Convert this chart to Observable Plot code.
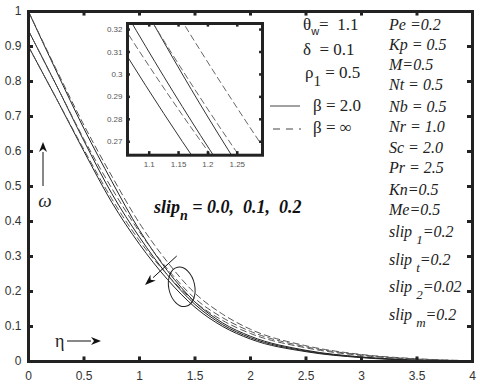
<!DOCTYPE html>
<html><head><meta charset="utf-8">
<script src="https://cdn.jsdelivr.net/npm/d3@7"></script>
<script src="https://cdn.jsdelivr.net/npm/@observablehq/plot@0.6"></script>
<style>
body{margin:0;background:#fff;}
#wrap{position:relative;width:480px;height:387px;overflow:hidden;}
#wrap > svg.mainplot{position:absolute;left:0;top:0;}
#wrap > svg.insetplot{position:absolute;left:100.7px;top:19.3px;}
</style></head><body><div id="wrap"></div>
<script>
// eta samples
const eta = [0, 0.25, 0.5, 0.75, 1.0, 1.25, 1.5, 1.75, 2.0, 2.5, 3.0, 3.5, 4.0];
// beta = 2.0 (solid)
const solidSlip00 = [1.0, 0.83, 0.665, 0.515, 0.375, 0.26, 0.17, 0.11, 0.072, 0.032, 0.013, 0.004, 0.0];
const solidSlip01 = [0.945, 0.79, 0.63, 0.48, 0.355, 0.248, 0.163, 0.105, 0.068, 0.03, 0.012, 0.004, 0.0];
const solidSlip02 = [0.9, 0.752, 0.6, 0.455, 0.335, 0.235, 0.155, 0.1, 0.064, 0.028, 0.011, 0.003, 0.0];
// beta = infinity (dashed)
const dashSlip00 = [1.0, 0.835, 0.675, 0.53, 0.395, 0.285, 0.195, 0.135, 0.092, 0.045, 0.02, 0.008, 0.002];
const dashSlip01 = [0.945, 0.79, 0.635, 0.495, 0.37, 0.265, 0.18, 0.125, 0.086, 0.042, 0.019, 0.007, 0.002];
const dashSlip02 = [0.9, 0.752, 0.605, 0.465, 0.345, 0.248, 0.17, 0.117, 0.08, 0.039, 0.017, 0.006, 0.001];

const xTicks = [0, 0.5, 1, 1.5, 2, 2.5, 3, 3.5, 4];
const yTicks = [0, 0.1, 0.2, 0.3, 0.4, 0.5, 0.6, 0.7, 0.8, 0.9, 1];
const insetXTicks = [1.1, 1.15, 1.2, 1.25];
const insetYTicks = [0.27, 0.28, 0.29, 0.3, 0.31, 0.32];

function toRows(vals, name) { return eta.map((e, i) => ({eta: e, omega: vals[i], series: name})); }
const solidRows = [...toRows(solidSlip00, "s0"), ...toRows(solidSlip01, "s1"), ...toRows(solidSlip02, "s2")];
const dashRows = [...toRows(dashSlip00, "d0"), ...toRows(dashSlip01, "d1"), ...toRows(dashSlip02, "d2")];

const fmt = d => String(d);
const INK = "#222";
const main = Plot.plot({
  width: 480, height: 387,
  marginLeft: 28, marginRight: 8, marginTop: 11, marginBottom: 26,
  x: {domain: [0, 4]},
  y: {domain: [0, 1]},
  style: {fontFamily: "'Liberation Sans', Arial, sans-serif", fontSize: "12px", color: "#333", background: "#fff"},
  marks: [
    Plot.line(solidRows, {x: "eta", y: "omega", z: "series", stroke: "#222", strokeWidth: 1, curve: "monotone-x"}),
    Plot.line(dashRows, {x: "eta", y: "omega", z: "series", stroke: "#555", strokeWidth: 1, strokeDasharray: "6,4", curve: "monotone-x"}),
    Plot.ruleX(xTicks, {x: d => d, y1: 0, y2: 0.013, stroke: INK, strokeWidth: 3}),
    Plot.ruleX(xTicks, {x: d => d, y1: 1, y2: 0.987, stroke: INK, strokeWidth: 3}),
    Plot.ruleY(yTicks, {y: d => d, x1: 0, x2: 0.045, stroke: INK, strokeWidth: 3}),
    Plot.ruleY(yTicks, {y: d => d, x1: 4, x2: 3.955, stroke: INK, strokeWidth: 3}),
    Plot.axisX({ticks: xTicks, tickSize: 0, tickPadding: 10, label: null, tickFormat: fmt}),
    Plot.axisY({ticks: yTicks, tickSize: 0, tickPadding: 7, label: null, tickFormat: fmt}),
    Plot.frame({stroke: INK, strokeWidth: 3})
  ]
});
main.classList.add("mainplot");
document.getElementById("wrap").appendChild(main);

const sx = main.scale("x"), sy = main.scale("y");
const svg = d3.select(main);
const ann = svg.append("g").attr("text-anchor", "start");

// ellipse around curves
const ecx = sx.apply(1.385), ecy = sy.apply(0.212);
ann.append("ellipse").attr("cx", ecx).attr("cy", ecy).attr("rx", 13).attr("ry", 20)
  .attr("transform", `rotate(-12,${ecx},${ecy})`)
  .attr("fill", "none").attr("stroke", "#222").attr("stroke-width", 1);

function arrow(x1, y1, x2, y2, head, width) {
  const ang = Math.atan2(y2 - y1, x2 - x1);
  const bx = x2 - head * Math.cos(ang), by = y2 - head * Math.sin(ang);
  ann.append("line").attr("x1", x1).attr("y1", y1).attr("x2", bx).attr("y2", by)
    .attr("stroke", "#111").attr("stroke-width", 1);
  const px = -Math.sin(ang) * width / 2, py = Math.cos(ang) * width / 2;
  const nx = x2 - head * 0.7 * Math.cos(ang), ny = y2 - head * 0.7 * Math.sin(ang);
  ann.append("path").attr("d", `M${x2},${y2}L${bx + px},${by + py}L${nx},${ny}L${bx - px},${by - py}Z`).attr("fill", "#111");
}
// slip arrow
arrow(sx.apply(1.34), sy.apply(0.3), sx.apply(1.054), sy.apply(0.217), 11, 8);
// omega axis arrow
arrow(43, 186, 43, 142, 10, 8);
// eta axis arrow
arrow(67, 341, 101, 341, 10, 8);

const serif = "'Liberation Serif', 'Times New Roman', serif";
ann.append("text").attr("x", 45).attr("y", 207).attr("text-anchor", "middle")
  .attr("font-family", serif).attr("font-style", "italic").attr("font-size", 19).attr("fill", "#222").text("ω");
ann.append("text").attr("x", 55).attr("y", 347)
  .attr("font-family", serif).attr("font-size", 18).attr("fill", "#222").text("η");

// slip_n annotation
const st = ann.append("text").attr("x", 154).attr("y", 213).attr("xml:space", "preserve")
  .attr("font-family", serif).attr("font-style", "italic").attr("font-weight", "bold").attr("font-size", 18).attr("fill", "#111");
st.append("tspan").text("slip");
st.append("tspan").attr("dy", 7).attr("font-size", 14).text("n");
st.append("tspan").attr("dy", -7).text(" = 0.0,  0.1,  0.2");

function legText(x, y, parts, opts = {}) {
  const t = ann.append("text").attr("x", x).attr("y", y).attr("xml:space", "preserve")
    .attr("font-family", serif).attr("font-size", opts.size || 17).attr("fill", "#222");
  if (opts.italic) t.attr("font-style", "italic");
  let cur = 0;
  for (const p of parts) {
    const sp = t.append("tspan").text(p.t);
    const d = (p.sub || 0) - cur;
    if (d) sp.attr("dy", d);
    cur = p.sub || 0;
    if (p.size) sp.attr("font-size", p.size);
    if (p.family) sp.attr("font-family", p.family).attr("font-style", "normal");
  }
  return t;
}
// left legend column (upright)
legText(303, 30, [{t: "θ"}, {t: "w", sub: 5, size: 11, family: "'Liberation Sans', Arial, sans-serif"}, {t: "=  1.1", sub: 0}]);
legText(303, 55, [{t: "δ  = 0.1"}]);
legText(305, 78, [{t: "ρ"}, {t: "1", sub: 8, size: 15}, {t: " = 0.5", sub: 0}]);
ann.append("line").attr("x1", 270).attr("x2", 300).attr("y1", 106).attr("y2", 106).attr("stroke", "#444").attr("stroke-width", 1);
legText(313, 111, [{t: "β = 2.0"}]);
ann.append("line").attr("x1", 273).attr("x2", 301).attr("y1", 129).attr("y2", 129).attr("stroke", "#444").attr("stroke-width", 1).attr("stroke-dasharray", "7,6");
legText(313, 133, [{t: "β = ∞"}]);

// right legend column (italic)
const rightCol = [
  [30, [{t: "Pe =0.2"}]],
  [50, [{t: "Kp = 0.5"}]],
  [70, [{t: "M=0.5"}]],
  [90, [{t: "Nt = 0.5"}]],
  [112, [{t: "Nb = 0.5"}]],
  [132, [{t: "Nr = 1.0"}]],
  [153, [{t: "Sc = 2.0"}]],
  [173, [{t: "Pr = 2.5"}]],
  [195, [{t: "Kn=0.5"}]],
  [215, [{t: "Me=0.5"}]],
  [237, [{t: "slip "}, {t: "1", sub: 7, size: 13}, {t: "=0.2", sub: 0}]],
  [265, [{t: "slip "}, {t: "t", sub: 7, size: 13}, {t: "=0.2", sub: 0}]],
  [292, [{t: "slip "}, {t: "2", sub: 7, size: 13}, {t: "=0.02", sub: 0}]],
  [320, [{t: "slip "}, {t: "m", sub: 7, size: 13}, {t: "=0.2", sub: 0}]]
];
for (const [y, parts] of rightCol) legText(389, y, parts, {italic: true, size: 16});

// inset
const INK2 = "#222";
const inset = Plot.plot({
  width: 165, height: 150,
  marginLeft: 26, marginRight: 4, marginTop: 4, marginBottom: 14.3,
  x: {domain: [1.063, 1.293]},
  y: {domain: [0.264, 0.3227]},
  style: {fontFamily: "'Liberation Sans', Arial, sans-serif", fontSize: "8px", color: "#555", background: "transparent"},
  marks: [
    Plot.frame({fill: "#fff", stroke: "none"}),
    Plot.line(solidRows, {x: "eta", y: "omega", z: "series", stroke: "#333", strokeWidth: 1, curve: "monotone-x", clip: true}),
    Plot.line(dashRows, {x: "eta", y: "omega", z: "series", stroke: "#666", strokeWidth: 1, strokeDasharray: "6,4", curve: "monotone-x", clip: true}),
    Plot.ruleX(insetXTicks, {x: d => d, y1: 0.264, y2: 0.2656, stroke: INK2, strokeWidth: 2.5}),
    Plot.ruleX(insetXTicks, {x: d => d, y1: 0.3227, y2: 0.3211, stroke: INK2, strokeWidth: 2.5}),
    Plot.ruleY(insetYTicks, {y: d => d, x1: 1.063, x2: 1.068, stroke: INK2, strokeWidth: 2.5}),
    Plot.ruleY(insetYTicks, {y: d => d, x1: 1.293, x2: 1.288, stroke: INK2, strokeWidth: 2.5}),
    Plot.axisX({ticks: insetXTicks, tickSize: 0, tickPadding: 6, label: null, tickFormat: fmt}),
    Plot.axisY({ticks: insetYTicks, tickSize: 0, tickPadding: 5, label: null, tickFormat: fmt}),
    Plot.frame({stroke: INK2, strokeWidth: 3})
  ]
});
inset.classList.add("insetplot");
document.getElementById("wrap").appendChild(inset);
</script>
</body></html>
